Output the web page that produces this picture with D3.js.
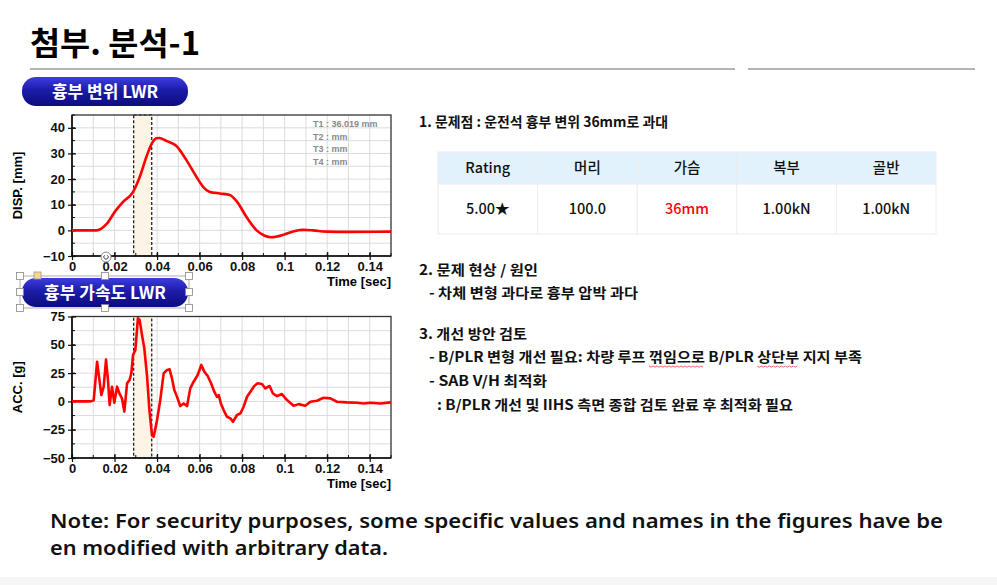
<!DOCTYPE html>
<html>
<head>
<meta charset="utf-8">
<script src="https://cdn.jsdelivr.net/npm/d3@7"></script>
<style>
  body { margin: 0; background: #fff; }
  svg text { font-family: "Noto Sans CJK KR", "Noto Sans", sans-serif; }
  .axis text { font-family: "Liberation Sans", Arial, sans-serif; font-weight: bold; font-size: 13px; fill: #111; }
  .axis path { display: none; }
  .axis line { stroke: #111; stroke-width: 1.2; }
</style>
</head>
<body>
<div id="chart"></div>
<script>
// Page title and section texts
var pageTitle = "첨부. 분석-1";
var dispTitle = "흉부 변위 LWR";
var accTitle = "흉부 가속도 LWR";

// Chest displacement curve (sec, mm)
var dispTime = [0, 0.0116, 0.0163, 0.0202, 0.0241, 0.0285, 0.0319, 0.035, 0.0374, 0.0397, 0.041, 0.0444, 0.0491, 0.0538, 0.0585, 0.0616, 0.0648, 0.0695, 0.0742, 0.0773, 0.082, 0.0867, 0.0906, 0.0938, 0.0992, 0.1039, 0.1086, 0.1133, 0.1196, 0.1305, 0.15];
var dispValue = [0, 0, 2.5, 7.3, 11.2, 14.7, 20.9, 28.7, 33.6, 35.9, 36.0, 34.9, 32.9, 27.4, 20.9, 17.0, 15.0, 14.4, 13.8, 11.5, 5.3, 0.1, -2.1, -2.7, -1.8, -0.4, 0.2, 0, -0.5, -0.6, -0.5];

// Chest acceleration curve (sec, g)
var accTime = [0, 0.0086, 0.0102, 0.0118, 0.0129, 0.0138, 0.0149, 0.016, 0.0169, 0.0177, 0.0188, 0.0199, 0.0212, 0.0223, 0.0235, 0.0246, 0.0259, 0.0271, 0.0279, 0.0287, 0.0298, 0.031, 0.0318, 0.0329, 0.034, 0.0353, 0.0364, 0.0376, 0.0384, 0.04, 0.0415, 0.0431, 0.0447, 0.0459, 0.047, 0.0481, 0.0494, 0.0509, 0.0525, 0.0541, 0.0556, 0.0572, 0.0591, 0.0608, 0.0622, 0.0638, 0.0654, 0.0669, 0.0682, 0.069, 0.07, 0.0713, 0.0729, 0.0745, 0.0757, 0.0776, 0.0792, 0.0807, 0.0823, 0.0839, 0.0857, 0.0873, 0.0893, 0.0909, 0.0929, 0.0945, 0.0964, 0.0987, 0.1011, 0.1042, 0.1066, 0.1097, 0.1121, 0.1152, 0.1183, 0.1215, 0.1246, 0.1293, 0.134, 0.1371, 0.1403, 0.145, 0.15];
var accValue = [0, 0, 1, 35, 19, 5.6, 13, 37, 19, -3.2, 13, -1.2, 13, 7, 2.7, -9, 16, 19, 25, 41, 45.5, 73.5, 72, 58.8, 47, 22, -7.7, -29.8, -31.3, -16.5, 1.2, 24.8, 27.8, 28.3, 20.4, 10, 4, -4.1, -1.8, -4.1, 11.5, 17.4, 23.3, 32.2, 26.3, 22.4, 16, 8.6, 4, 5.6, -1.8, -7.7, -13.6, -15, -18, -12, -10.6, -4.7, 4.1, 8.6, 13.6, 16, 15.4, 11.5, 13.6, 7, 4.7, 6.5, 1.2, -3.8, -2.4, -3.8, -0.3, 0.6, 3.2, 2.7, -0.3, -0.9, -1.2, -1.8, -1.2, -1.8, -0.9];

// Axis ticks
var timeTicks = [0, 0.02, 0.04, 0.06, 0.08, 0.1, 0.12, 0.14];
var dispTicks = [-10, 0, 10, 20, 30, 40];
var accTicks = [-50, -25, 0, 25, 50, 75];

// Highlighted time window (sec)
var bandRange = [0.029, 0.0375];

// Readout labels in the displacement panel
var readouts = ["T1 : 36.019 mm", "T2 :  mm", "T3 :  mm", "T4 :  mm"];

// Rating table
var tableHeader = ["Rating", "머리", "가슴", "복부", "골반"];
var tableRow = ["5.00★", "100.0", "36mm", "1.00kN", "1.00kN"];

// Right hand notes (x start, baseline, right end)
var notes = [
  {text: "1. 문제점 : 운전석 흉부 변위 36mm로 과대", x: 419, y: 127, end: 668},
  {text: "2. 문제 현상 / 원인", x: 419, y: 275, end: 538},
  {text: "- 차체 변형 과다로 흉부 압박 과다", x: 429, y: 298, end: 638},
  {text: "3. 개선 방안 검토", x: 419, y: 339, end: 527},
  {text: "- B/PLR 변형 개선 필요: 차량 루프 꺾임으로 B/PLR 상단부 지지 부족", x: 429, y: 362, end: 862},
  {text: "- SAB V/H 최적화", x: 429, y: 386, end: 547},
  {text: ": B/PLR 개선 및 IIHS 측면 종합 검토 완료 후 최적화 필요", x: 437, y: 410, end: 793}
];
var squiggleWords = ["꺾임으로", "상단부"];

var footNote = ["Note: For security purposes, some specific values and names in the figures have be",
                "en modified with arbitrary data."];

var W = 997, H = 585;

var svg = d3.select("#chart").append("svg")
  .attr("width", W).attr("height", H);

var defs = svg.append("defs");
var grad = defs.append("linearGradient").attr("id", "pill").attr("x1", 0).attr("y1", 0).attr("x2", 0).attr("y2", 1);
grad.append("stop").attr("offset", "0%").attr("stop-color", "#3d3de0");
grad.append("stop").attr("offset", "45%").attr("stop-color", "#1c1ca8");
grad.append("stop").attr("offset", "100%").attr("stop-color", "#0c0c80");

// faint bottom band
svg.append("rect").attr("x", 0).attr("y", 577).attr("width", W).attr("height", 8).attr("fill", "#f6f6f6");

//Title + rule lines
svg.append("text").attr("x", 30).attr("y", 55)
  .attr("font-size", 32).attr("font-weight", 700).attr("fill", "#000")
  .attr("textLength", 170).attr("lengthAdjust", "spacingAndGlyphs")
  .text(pageTitle);
svg.append("line").attr("x1", 30).attr("x2", 735).attr("y1", 69).attr("y2", 69).attr("stroke", "#b4b4b4").attr("stroke-width", 2);
svg.append("line").attr("x1", 748).attr("x2", 975).attr("y1", 69).attr("y2", 69).attr("stroke", "#b4b4b4").attr("stroke-width", 2);

//Shared x scale
var xScale = d3.scaleLinear().domain([0, 0.15]).range([72, 391]);
var fmtTime = function(d) { return d === 0 ? "0" : String(+d.toFixed(2)); };

function drawPanel(cfg) {
  var yScale = d3.scaleLinear().domain(cfg.domain).range([cfg.bottom, cfg.top]);
  var g = svg.append("g");

  //Grid
  g.selectAll("line.vgrid").data(d3.range(1, 15).map(function(i) { return i / 100; }))
    .enter().append("line")
      .attr("x1", function(d) { return xScale(d); }).attr("x2", function(d) { return xScale(d); })
      .attr("y1", cfg.top).attr("y2", cfg.bottom)
      .attr("stroke", "#dcdcdc").attr("stroke-width", 1);
  var hg = d3.range(cfg.domain[0] + cfg.gridStep, cfg.domain[1], cfg.gridStep);
  g.selectAll("line.hgrid").data(hg)
    .enter().append("line")
      .attr("x1", 72).attr("x2", 391)
      .attr("y1", function(d) { return yScale(d); }).attr("y2", function(d) { return yScale(d); })
      .attr("stroke", "#dcdcdc").attr("stroke-width", 1);

  //Highlight band
  g.append("rect")
    .attr("x", xScale(bandRange[0])).attr("width", xScale(bandRange[1]) - xScale(bandRange[0]))
    .attr("y", cfg.top).attr("height", cfg.bottom - cfg.top)
    .attr("fill", "#fcf3e2").attr("fill-opacity", 0.92)
    .attr("stroke", "#111").attr("stroke-width", 1.2).attr("stroke-dasharray", "3,2");

  //Frame
  g.append("rect").attr("x", 72).attr("y", cfg.top).attr("width", 319).attr("height", cfg.bottom - cfg.top)
    .attr("fill", "none").attr("stroke", "#333").attr("stroke-width", 1.3);

  //Minor ticks (inside)
  var minorY = d3.range(cfg.domain[0], cfg.domain[1] + 0.001, cfg.gridStep);
  g.selectAll("line.my").data(minorY).enter().append("line")
    .attr("x1", 72).attr("x2", 75)
    .attr("y1", function(d) { return yScale(d); }).attr("y2", function(d) { return yScale(d); })
    .attr("stroke", "#111");
  g.selectAll("line.mx").data(d3.range(0, 16).map(function(i) { return i / 100; })).enter().append("line")
    .attr("x1", function(d) { return xScale(d); }).attr("x2", function(d) { return xScale(d); })
    .attr("y1", cfg.bottom).attr("y2", cfg.bottom - 3)
    .attr("stroke", "#111");

  //Axes
  var yAxis = d3.axisLeft(yScale).tickValues(cfg.ticks).tickSize(4).tickPadding(3);
  var ya = g.append("g").attr("class", "axis").attr("transform", "translate(72,0)").call(yAxis);
  ya.selectAll(".tick line").attr("x1", 4);

  var xAxis = d3.axisBottom(xScale).tickValues(timeTicks).tickFormat(fmtTime).tickSize(4).tickPadding(2);
  var xa = g.append("g").attr("class", "axis").attr("transform", "translate(0," + cfg.bottom + ")").call(xAxis);
  xa.selectAll(".tick line").attr("y1", -4);

  g.append("line").attr("x1", 72).attr("x2", 72).attr("y1", cfg.top).attr("y2", cfg.bottom).attr("stroke", "#111").attr("stroke-width", 1.6);
  g.append("line").attr("x1", 72).attr("x2", 391).attr("y1", cfg.bottom).attr("y2", cfg.bottom).attr("stroke", "#111").attr("stroke-width", 1.6);

  g.append("text").attr("x", 391).attr("y", cfg.bottom + 30).attr("text-anchor", "end")
    .style("font-family", "Liberation Sans, Arial, sans-serif").attr("font-weight", "bold").attr("font-size", 13)
    .text("Time [sec]");
  g.append("text")
    .attr("transform", "translate(22," + ((cfg.top + cfg.bottom) / 2) + ") rotate(-90)")
    .attr("text-anchor", "middle")
    .style("font-family", "Liberation Sans, Arial, sans-serif").attr("font-weight", "bold").attr("font-size", 13)
    .text(cfg.label);

  //Curve
  var line = d3.line()
    .curve(cfg.curve)
    .x(function(d) { return xScale(d[0]); })
    .y(function(d) { return yScale(d[1]); });
  g.append("path")
    .datum(d3.zip(cfg.time, cfg.values))
    .attr("d", line)
    .attr("fill", "none").attr("stroke", "#ff0000").attr("stroke-width", 2.6)
    .attr("stroke-linejoin", "round");

  return g;
}

var dispPanel = drawPanel({top: 115, bottom: 256, domain: [-10, 45], ticks: dispTicks, gridStep: 5,
  label: "DISP. [mm]", time: dispTime, values: dispValue, curve: d3.curveMonotoneX});
dispPanel.selectAll("text.readout").data(readouts).enter().append("text")
  .attr("x", 313).attr("y", function(d, i) { return 127 + i * 12.7; })
  .style("font-family", "Liberation Sans, Arial, sans-serif").attr("font-weight", "bold")
  .attr("font-size", 9).attr("fill", "#8a8a8a")
  .text(function(d) { return d; });

drawPanel({top: 316.5, bottom: 458, domain: [-50, 75], ticks: accTicks, gridStep: 12.5,
  label: "ACC. [g]", time: accTime, values: accValue, curve: d3.curveLinear});

//Panel title pills
function pill(y, label) {
  svg.append("rect").attr("x", 22).attr("y", y).attr("width", 166).attr("height", 29).attr("rx", 14)
    .attr("fill", "url(#pill)");
  svg.append("text").attr("x", 105).attr("y", y + 20.5).attr("text-anchor", "middle")
    .attr("fill", "#fff").attr("font-size", 17).attr("font-weight", 700).text(label);
}
pill(77, dispTitle);
pill(278, accTitle);

//Selection frame around second pill
svg.append("rect").attr("x", 20).attr("y", 276).attr("width", 169).attr("height", 32)
  .attr("fill", "none").attr("stroke", "#999").attr("stroke-width", 0.8);
var handles = [[20, 276], [105, 276], [189, 276], [20, 292], [189, 292], [20, 308], [105, 308], [189, 308]];
svg.selectAll("rect.handle").data(handles).enter().append("rect")
  .attr("x", function(d) { return d[0] - 3.5; }).attr("y", function(d) { return d[1] - 3.5; })
  .attr("width", 7).attr("height", 7).attr("fill", "#fff").attr("stroke", "#888").attr("stroke-width", 0.8);
svg.append("rect").attr("x", 34).attr("y", 272).attr("width", 7).attr("height", 7)
  .attr("fill", "#f5d88a").attr("stroke", "#999").attr("stroke-width", 0.8);
svg.append("circle").attr("cx", 106).attr("cy", 257).attr("r", 5).attr("fill", "#fff").attr("stroke", "#888");
svg.append("path").attr("d", d3.arc()({innerRadius: 2.2, outerRadius: 2.2, startAngle: 0.6, endAngle: 5.6}))
  .attr("transform", "translate(106,257)").attr("fill", "none").attr("stroke", "#777").attr("stroke-width", 1);

//Right hand notes
var noteText = svg.selectAll("text.note").data(notes).enter().append("text")
  .attr("class", "note")
  .attr("x", function(d) { return d.x; }).attr("y", function(d) { return d.y; })
  .attr("font-size", 14).attr("font-weight", 700).attr("fill", "#111")
  .attr("textLength", function(d) { return d.end - d.x; })
  .attr("lengthAdjust", "spacingAndGlyphs")
  .text(function(d) { return d.text; });

//Spell-check squiggles
noteText.each(function(d) {
  var node = this;
  squiggleWords.forEach(function(w) {
    var idx = d.text.indexOf(w);
    if (idx < 0) return;
    var x0 = node.getStartPositionOfChar(idx).x;
    var x1 = node.getEndPositionOfChar(idx + w.length - 1).x;
    var pts = [];
    for (var x = x0; x <= x1; x += 2) pts.push([x, d.y + 4 + (Math.round((x - x0) / 2) % 2 ? 1.2 : 0)]);
    svg.append("path").attr("d", d3.line()(pts)).attr("fill", "none").attr("stroke", "#e23c3c").attr("stroke-width", 0.8);
  });
});

//Rating table
var tX = 438, tW = 498, colW = tW / tableHeader.length;
var colScale = d3.scaleBand().domain(d3.range(tableHeader.length)).range([tX, tX + tW]);
svg.append("rect").attr("x", tX).attr("y", 152).attr("width", tW).attr("height", 32).attr("fill", "#e2f2fc");
svg.append("rect").attr("x", tX).attr("y", 152).attr("width", tW).attr("height", 82)
  .attr("fill", "none").attr("stroke", "#ececec");
svg.append("line").attr("x1", tX).attr("x2", tX + tW).attr("y1", 184).attr("y2", 184).attr("stroke", "#ececec");
svg.selectAll("line.colsep").data(d3.range(1, tableHeader.length)).enter().append("line")
  .attr("x1", function(d) { return colScale(d); }).attr("x2", function(d) { return colScale(d); })
  .attr("y1", 152).attr("y2", 234).attr("stroke", "#ececec");
svg.selectAll("text.th").data(tableHeader).enter().append("text")
  .attr("x", function(d, i) { return colScale(i) + colW / 2; }).attr("y", 173)
  .attr("text-anchor", "middle").attr("font-size", 14.5).attr("font-weight", 500).attr("fill", "#111")
  .text(function(d) { return d; });
svg.selectAll("text.td").data(tableRow).enter().append("text")
  .attr("x", function(d, i) { return colScale(i) + colW / 2; }).attr("y", 214)
  .attr("text-anchor", "middle").attr("font-size", 14.5).attr("font-weight", 500)
  .attr("fill", function(d, i) { return i === 2 ? "#ff0000" : "#111"; })
  .text(function(d) { return d; });

//Footnote
svg.selectAll("text.foot").data(footNote).enter().append("text")
  .attr("x", 50).attr("y", function(d, i) { return 528 + i * 27; })
  .style("font-family", "Noto Sans, sans-serif").attr("font-size", 19).attr("font-weight", 600).attr("fill", "#111")
  .attr("textLength", function(d, i) { return i === 0 ? 893 : 338; })
  .attr("lengthAdjust", "spacingAndGlyphs")
  .text(function(d) { return d; });
</script>
</body>
</html>
